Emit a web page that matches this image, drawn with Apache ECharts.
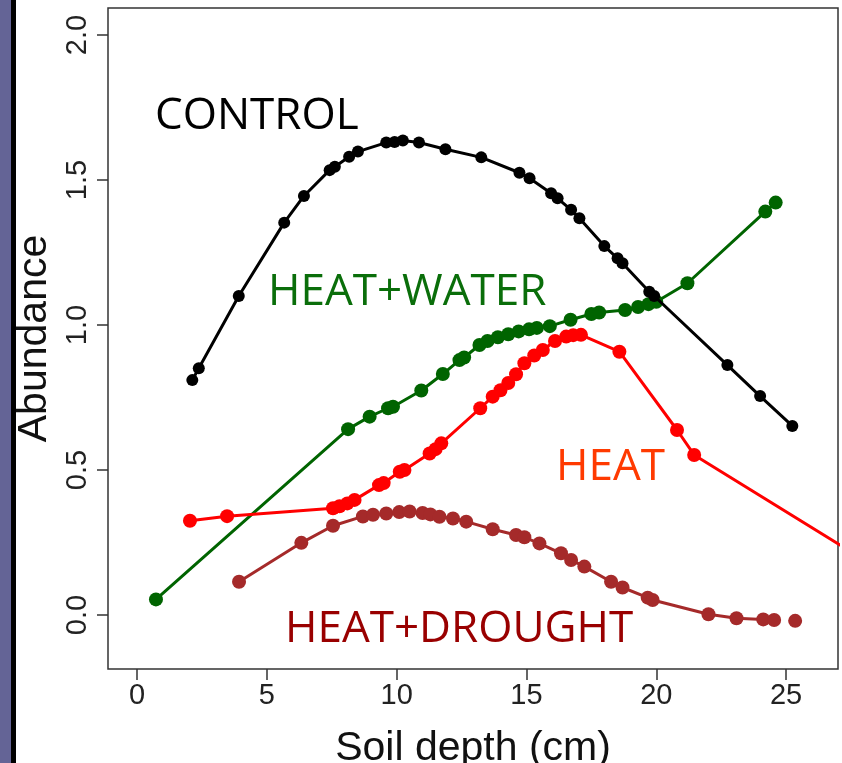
<!DOCTYPE html>
<html>
<head>
<meta charset="utf-8">
<style>
  html, body { margin: 0; padding: 0; background: #ffffff; }
  #chart { width: 842px; height: 763px; }
</style>
<script src="https://cdn.jsdelivr.net/npm/echarts@6/dist/echarts.min.js"></script>
</head>
<body>
<div id="chart"></div>
<script>
// ---- data ----
const xTicks = [0, 5, 10, 15, 20, 25];
const yTicks = [0, 0.5, 1.0, 1.5, 2.0];

const controlX = [2.13, 2.38, 3.92, 5.67, 6.43, 7.42, 7.62, 8.17, 8.51, 9.60, 9.92, 10.24, 10.86, 11.88, 13.26, 14.73, 15.12, 15.95, 16.20, 16.72, 17.04, 18.00, 18.51, 18.70, 19.73, 19.92, 22.74, 24.00, 25.24];
const controlY = [0.810, 0.851, 1.100, 1.353, 1.445, 1.534, 1.546, 1.580, 1.598, 1.629, 1.631, 1.636, 1.629, 1.606, 1.578, 1.525, 1.506, 1.454, 1.437, 1.397, 1.368, 1.272, 1.230, 1.213, 1.115, 1.100, 0.862, 0.755, 0.652];

const waterX = [0.73, 8.13, 8.96, 9.67, 9.86, 10.95, 11.78, 12.42, 12.60, 13.19, 13.50, 13.90, 14.30, 14.70, 15.10, 15.40, 15.90, 16.70, 17.50, 17.80, 18.80, 19.30, 19.70, 20.00, 21.20, 24.20, 24.60];
const waterY = [0.054, 0.641, 0.684, 0.713, 0.718, 0.774, 0.831, 0.879, 0.888, 0.931, 0.945, 0.958, 0.968, 0.978, 0.985, 0.990, 0.996, 1.018, 1.038, 1.043, 1.052, 1.062, 1.072, 1.080, 1.144, 1.391, 1.422];

const heatX = [2.04, 3.47, 7.55, 7.80, 8.10, 8.38, 9.32, 9.50, 10.12, 10.30, 11.27, 11.50, 11.72, 13.22, 13.70, 14.00, 14.30, 14.60, 14.92, 15.30, 15.63, 16.10, 16.53, 16.80, 17.10, 18.58, 20.80, 21.46, 30.00];
const heatY = [0.325, 0.341, 0.368, 0.375, 0.385, 0.397, 0.448, 0.455, 0.494, 0.500, 0.557, 0.572, 0.592, 0.713, 0.753, 0.775, 0.800, 0.830, 0.868, 0.895, 0.914, 0.945, 0.960, 0.965, 0.966, 0.908, 0.638, 0.552, 0.080];

// null = break in the line (last point stands alone)
const droughtX = [3.93, 6.33, 7.55, 8.70, 9.09, 9.60, 10.10, 10.50, 11.00, 11.30, 11.65, 12.17, 12.68, 13.70, 14.60, 14.92, 15.50, 16.33, 16.72, 17.23, 18.26, 18.70, 19.67, 19.86, 22.01, 23.09, 24.12, 24.54, 24.90, 25.35];
const droughtY = [0.115, 0.249, 0.308, 0.340, 0.346, 0.350, 0.355, 0.357, 0.352, 0.347, 0.339, 0.333, 0.322, 0.296, 0.276, 0.268, 0.247, 0.213, 0.190, 0.167, 0.115, 0.095, 0.060, 0.052, 0.003, -0.011, -0.015, -0.017, null, -0.020];

const seriesNames = ['CONTROL', 'HEAT+WATER', 'HEAT', 'HEAT+DROUGHT'];

function pairs(xs, ys) {
  return xs.map((x, i) => (ys[i] === null ? [x, '-'] : [x, ys[i]]));
}

const chart = echarts.init(document.getElementById('chart'), null, { renderer: 'canvas' });

const axisColor = '#333333';
const tickFont = 'Liberation Sans';

const option = {
  animation: false,
  backgroundColor: '#ffffff',
  grid: {
    left: 108, right: 4, top: 8, bottom: 94,
    containLabel: false,
    outerBoundsMode: 'none',
    show: true, borderColor: axisColor, borderWidth: 1.5, backgroundColor: 'transparent'
  },
  xAxis: {
    type: 'value',
    min: -1.117, max: 27.0,
    name: 'Soil depth (cm)',
    nameLocation: 'middle',
    nameGap: 59,
    nameTextStyle: { fontFamily: tickFont, fontSize: 41, color: '#111' },
    axisLine: { show: false, onZero: false },
    splitLine: { show: false },
    axisTick: { show: true, inside: false, length: 11, customValues: xTicks, lineStyle: { color: axisColor, width: 1.5 } },
    axisLabel: { customValues: xTicks, margin: 12, fontFamily: tickFont, fontSize: 29, color: '#222',
      formatter: v => String(v) }
  },
  yAxis: {
    type: 'value',
    min: -0.186, max: 2.093,
    name: 'Abundance',
    nameLocation: 'middle',
    nameGap: 52,
    nameRotate: 90,
    nameTextStyle: { fontFamily: tickFont, fontSize: 41, color: '#111' },
    axisLine: { show: false, onZero: false },
    splitLine: { show: false },
    axisTick: { show: true, inside: false, length: 11, customValues: yTicks, lineStyle: { color: axisColor, width: 1.5 } },
    axisLabel: { customValues: yTicks, rotate: 90, margin: 16, fontFamily: tickFont, fontSize: 29, color: '#222',
      formatter: v => v.toFixed(1) }
  },
  series: [
    {
      name: seriesNames[3], type: 'line', data: pairs(droughtX, droughtY),
      symbol: 'circle', symbolSize: 14, connectNulls: false,
      itemStyle: { color: '#a52a2a' }, lineStyle: { color: '#a52a2a', width: 3 }, z: 2
    },
    {
      name: seriesNames[1], type: 'line', data: pairs(waterX, waterY),
      symbol: 'circle', symbolSize: 14,
      itemStyle: { color: '#006400' }, lineStyle: { color: '#006400', width: 3 }, z: 3
    },
    {
      name: seriesNames[2], type: 'line', data: pairs(heatX, heatY),
      symbol: 'circle', symbolSize: 14, clip: true,
      itemStyle: { color: '#ff0000' }, lineStyle: { color: '#ff0000', width: 3 }, z: 4
    },
    {
      name: seriesNames[0], type: 'line', data: pairs(controlX, controlY),
      symbol: 'circle', symbolSize: 12,
      itemStyle: { color: '#000000' }, lineStyle: { color: '#000000', width: 3 }, z: 5
    }
  ],
  graphic: [
    { type: 'rect', shape: { x: 0, y: 0, width: 11, height: 763 }, style: { fill: '#646496' }, silent: true },
    { type: 'rect', shape: { x: 11, y: 0, width: 5, height: 763 }, style: { fill: '#000000' }, silent: true },
    { type: 'text', x: 155, y: 116, style: { text: seriesNames[0], font: '44px "Open Sans"', fill: '#000000', align: 'left', verticalAlign: 'middle' }, z: 100 },
    { type: 'text', x: 268, y: 292, style: { text: seriesNames[1], font: '44px "Open Sans"', fill: '#0a6e0a', align: 'left', verticalAlign: 'middle' }, z: 100 },
    { type: 'text', x: 556, y: 467, style: { text: seriesNames[2], font: '44px "Open Sans"', fill: '#ff3a00', align: 'left', verticalAlign: 'middle' }, z: 100 },
    { type: 'text', x: 285, y: 629, style: { text: seriesNames[3], font: '44px "Open Sans"', fill: '#990000', align: 'left', verticalAlign: 'middle' }, z: 100 }
  ]
};

chart.setOption(option);
</script>
</body>
</html>
